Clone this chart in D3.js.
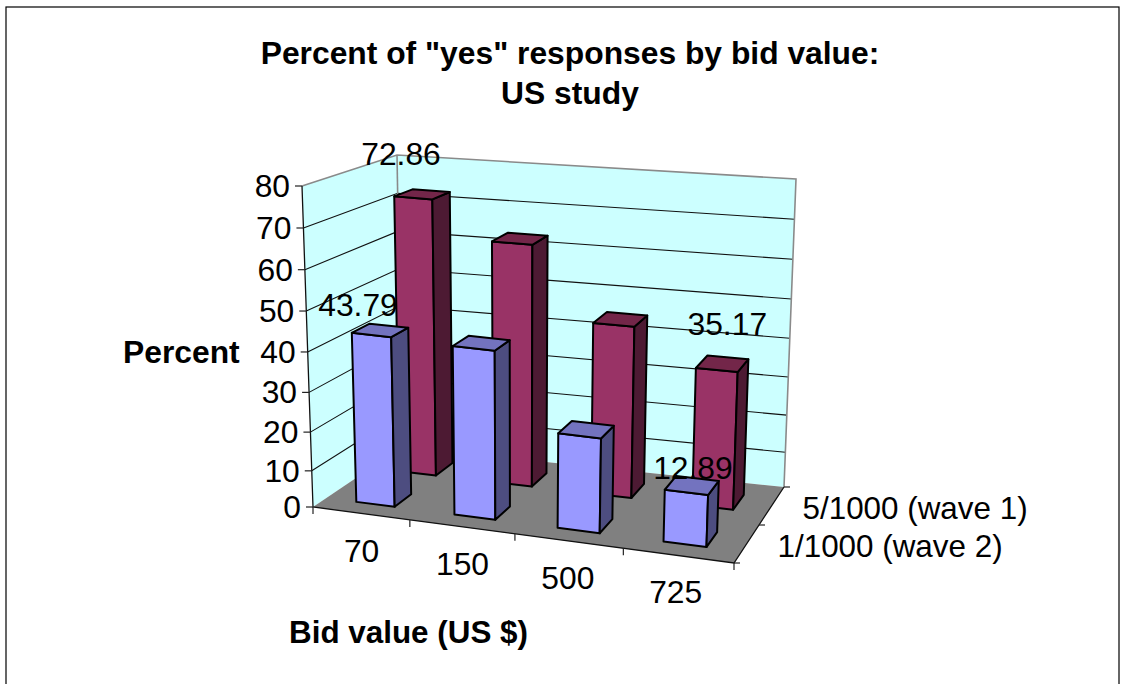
<!DOCTYPE html>
<html><head><meta charset="utf-8">
<script src="https://cdn.jsdelivr.net/npm/d3@7"></script>
<style>html,body{margin:0;padding:0;background:#fff}svg{display:block}text{font-family:"Liberation Sans",Arial,sans-serif;fill:#000}</style>
</head><body><svg id="c" width="1127" height="684"></svg>
<script>
const categories = ["70","150","500","725"];
const seriesNames = ["1/1000 (wave 2)","5/1000 (wave 1)"];
const wave2 = [43.79,43,24,12.89];
const wave1 = [72.86,63.3,44.5,35.17];
const valueTicks = [0,10,20,30,40,50,60,70,80];
const labelledWave2 = ["70","725"];
const labelledWave1 = ["70","725"];
const titleLines = ['Percent of "yes" responses by bid value:','US study'];

const svg = d3.select("#c");
const FS = 31.8, FS2 = 31.4;
// cube corners on screen, [x,y] at (u,v,w)
const C = {
 "000":[313,507],"100":[734,563],"010":[402,447],"110":[784,487],
 "001":[302,186],"101":[746,232],"011":[397,155],"111":[796,179]
};
const P = (u0,v,w)=>{
  const u=Math.pow(u0,1.06), out=[0,0];
  for(const a of [0,1])for(const b of [0,1])for(const c of [0,1]){
    const k=(a?u:1-u)*(b?v:1-v)*(c?w:1-w), p=C[""+a+b+c];
    out[0]+=k*p[0]; out[1]+=k*p[1];
  }
  return out;
};
const xS = d3.scaleBand().domain(categories).range([0.01,0.994]).paddingInner(0.6).paddingOuter(0.3);
const zS = d3.scaleBand().domain(seriesNames).range([0,1]).paddingInner(0.6).paddingOuter(0.3);
const yS = d3.scalePow().exponent(1.05).domain([0,80]).range([0,1]);
const barW = (val,u)=>Math.pow(yS(val),1-0.05*u);
const poly = pts=>d3.line()(pts)+"Z";
const g = svg.append("g");

g.append("rect").attr("x",6).attr("y",7).attr("width",1113).attr("height",700).attr("fill","#fff").attr("stroke","#000").attr("stroke-width",1.2);

// walls and floor
g.append("path").attr("d",poly([P(0,0,0),P(0,1,0),P(0,1,1),P(0,0,1)])).attr("fill","#ccffff");
g.append("path").attr("d",poly([P(0,1,0),P(1,1,0),P(1,1,1),P(0,1,1)])).attr("fill","#ccffff");
g.append("path").attr("d",poly([P(0,0,0),P(1,0,0),P(1,1,0),P(0,1,0)])).attr("fill","#808080");
// gridlines
valueTicks.filter(d=>d>0&&d<80).forEach(d=>{
  const w=yS(d);
  g.append("path").attr("d",d3.line()([P(0,0,w),P(0,1,w),P(1,1,w)])).attr("fill","none").attr("stroke","#111").attr("stroke-width",1.1);
});
// wall edges
g.append("path").attr("d",d3.line()([P(0,0,1),P(0,1,1),P(1,1,1),P(1,1,0)])).attr("fill","none").attr("stroke","#8a8a8a").attr("stroke-width",1.6);
g.append("path").attr("d",d3.line()([P(0,1,1),P(0,1,0.72)])).attr("fill","none").attr("stroke","#8a8a8a").attr("stroke-width",1.6);
// axes
g.append("path").attr("d",d3.line()([P(0,0,1),P(0,0,0),P(1,0,0),P(1,1,0)])).attr("fill","none").attr("stroke","#111").attr("stroke-width",1.3);
valueTicks.forEach(d=>{
  const p=P(0,0,yS(d));
  g.append("line").attr("x1",p[0]-7).attr("x2",p[0]).attr("y1",p[1]).attr("y2",p[1]).attr("stroke","#222").attr("stroke-width",1.2);
  g.append("text").attr("x",p[0]-12).attr("y",p[1]+11).attr("text-anchor","end").attr("font-size",FS).text(d);
});
[0,1,2,3,4].forEach(i=>{
  const p=P(i/4,0,0);
  g.append("line").attr("x1",p[0]).attr("x2",p[0]).attr("y1",p[1]).attr("y2",p[1]+7).attr("stroke","#222").attr("stroke-width",1.2);
});
[0,1,2].forEach(i=>{
  const p=P(1,i/2,0);
  g.append("line").attr("x1",p[0]).attr("x2",p[0]+6).attr("y1",p[1]).attr("y2",p[1]).attr("stroke","#222").attr("stroke-width",1.2);
});
categories.forEach(c=>{
  const p=P(xS(c)+xS.bandwidth()/2,0,0);
  g.append("text").attr("x",p[0]-1).attr("y",p[1]+48).attr("text-anchor","middle").attr("font-size",FS).text(c);
});
seriesNames.forEach(s=>{
  const p=P(1,zS(s)+zS.bandwidth()/2,0);
  g.append("text").attr("x",p[0]+31).attr("y",p[1]+13).attr("font-size",FS2).text(s);
});

// bars, back row first
function bars(vals,name,cols){
  categories.forEach((c,i)=>{
    const u0=xS(c),u1=u0+xS.bandwidth(),v0=zS(name),v1=v0+zS.bandwidth(),w=barW(vals[i],u0);
    const face=(pts,f)=>g.append("path").attr("d",poly(pts)).attr("fill",f).attr("stroke","#000").attr("stroke-width",2).attr("stroke-linejoin","round");
    face([P(u0,v0,0),P(u1,v0,0),P(u1,v0,w),P(u0,v0,w)],cols[0]);
    face([P(u1,v0,0),P(u1,v1,0),P(u1,v1,w),P(u1,v0,w)],cols[1]);
    face([P(u0,v0,w),P(u1,v0,w),P(u1,v1,w),P(u0,v1,w)],cols[2]);
  });
}
bars(wave1,seriesNames[1],["#993366","#4d1a33","#732649"]);
bars(wave2,seriesNames[0],["#9999ff","#4d4d80","#7373bf"]);

// data labels
function dataLabels(vals,name,show,shift){
  categories.forEach((c,i)=>{
    if(!show.includes(c))return;
    const u=xS(c);
    const p=P(u+xS.bandwidth()/2,zS(name)+zS.bandwidth()/2,barW(vals[i],u));
    g.append("text").attr("x",p[0]+shift[c][0]).attr("y",p[1]+shift[c][1]).attr("text-anchor","middle").attr("font-size",FS).text(vals[i].toFixed(2));
  });
}
dataLabels(wave1,seriesNames[1],labelledWave1,{"70":[-21,-29],"725":[5,-29]});
dataLabels(wave2,seriesNames[0],labelledWave2,{"70":[-22,-14],"725":[1,-6]});

// titles
titleLines.forEach((t,i)=>{
  g.append("text").attr("x",570).attr("y",64+i*40).attr("text-anchor","middle").attr("font-size",FS).attr("font-weight","bold").text(t);
});
g.append("text").attr("x",123).attr("y",363).attr("font-size",FS).attr("font-weight","bold").text("Percent");
g.append("text").attr("x",289).attr("y",643).attr("font-size",FS2).attr("font-weight","bold").text("Bid value (US $)");
</script></body></html>
